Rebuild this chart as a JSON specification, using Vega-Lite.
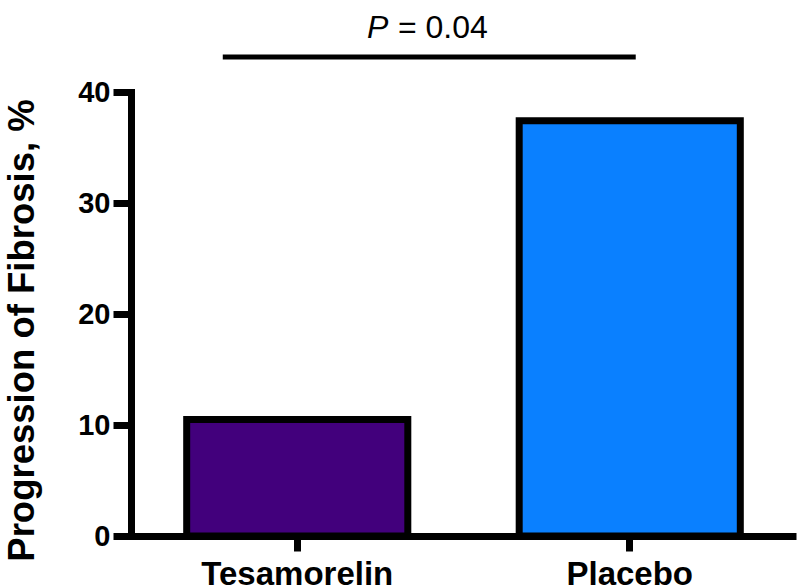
{
  "$schema": "https://vega.github.io/schema/vega-lite/v6.json",
  "width": 665,
  "height": 444,
  "autosize": "none",
  "padding": {"left": 131, "top": 92, "right": 4, "bottom": 50},
  "background": "white",
  "config": {
    "view": {"stroke": null},
    "font": "Liberation Sans"
  },
  "resolve": {"scale": {"x": "independent"}},
  "layer": [
    {
      "data": {"values": [
        {"group": "Tesamorelin", "progression": 10.5},
        {"group": "Placebo", "progression": 37.4}
      ]},
      "mark": {"type": "bar", "stroke": "black", "strokeWidth": 7, "strokeJoin": "miter"},
      "encoding": {
        "x": {
          "field": "group", "type": "nominal", "sort": ["Tesamorelin", "Placebo"],
          "scale": {"paddingInner": 0.335, "paddingOuter": 0.1675},
          "axis": {
            "title": null, "labelAngle": 0, "labelFontSize": 33, "labelFontWeight": "bold",
            "labelColor": "black", "labelPadding": 7, "labelFont": "Liberation Sans", "labelLimit": 400,
            "tickSize": 15, "tickWidth": 7, "tickColor": "black",
            "domainWidth": 7, "domainColor": "black", "grid": false
          }
        },
        "y": {
          "field": "progression", "type": "quantitative",
          "scale": {"domain": [0, 40], "nice": false},
          "axis": {
            "title": "Progression of Fibrosis, %",
            "titleFontSize": 36.5, "titleFontWeight": "bold", "titleColor": "black",
            "titleFont": "Liberation Sans", "titleLimit": 600,
            "titleAngle": 270, "titleX": -109, "titleY": 238, "titleAlign": "center", "titleBaseline": "middle",
            "values": [0, 10, 20, 30, 40],
            "labelFontSize": 29, "labelFontWeight": "bold", "labelColor": "black",
            "labelFont": "Liberation Sans", "labelPadding": 3,
            "tickSize": 18, "tickWidth": 7, "tickColor": "black",
            "domainWidth": 7, "domainColor": "black", "domainCap": "square", "grid": false
          }
        },
        "fill": {
          "field": "group", "type": "nominal",
          "scale": {"domain": ["Tesamorelin", "Placebo"], "range": ["#42007C", "#0A80FF"]},
          "legend": null
        }
      }
    },
    {
      "data": {"values": [{"start": 0.276, "end": 1.518, "level": 43.15}]},
      "mark": {"type": "rule", "color": "black", "strokeWidth": 5},
      "encoding": {
        "x": {"field": "start", "type": "quantitative", "scale": {"domain": [0, 2], "nice": false, "zero": false}, "axis": null},
        "x2": {"field": "end"},
        "y": {"field": "level", "type": "quantitative"}
      }
    },
    {
      "data": {"values": [{"pos": 0.71, "level": 44.86, "label": "P"}]},
      "mark": {"type": "text", "align": "left", "baseline": "alphabetic", "fontSize": 32, "font": "Liberation Sans", "fontStyle": "italic", "color": "black"},
      "encoding": {
        "x": {"field": "pos", "type": "quantitative", "scale": {"domain": [0, 2], "nice": false, "zero": false}, "axis": null},
        "y": {"field": "level", "type": "quantitative"},
        "text": {"field": "label"}
      }
    },
    {
      "data": {"values": [{"pos": 0.803, "level": 44.86, "label": "= 0.04"}]},
      "mark": {"type": "text", "align": "left", "baseline": "alphabetic", "fontSize": 32, "font": "Liberation Sans", "color": "black"},
      "encoding": {
        "x": {"field": "pos", "type": "quantitative", "scale": {"domain": [0, 2], "nice": false, "zero": false}, "axis": null},
        "y": {"field": "level", "type": "quantitative"},
        "text": {"field": "label"}
      }
    }
  ]
}
